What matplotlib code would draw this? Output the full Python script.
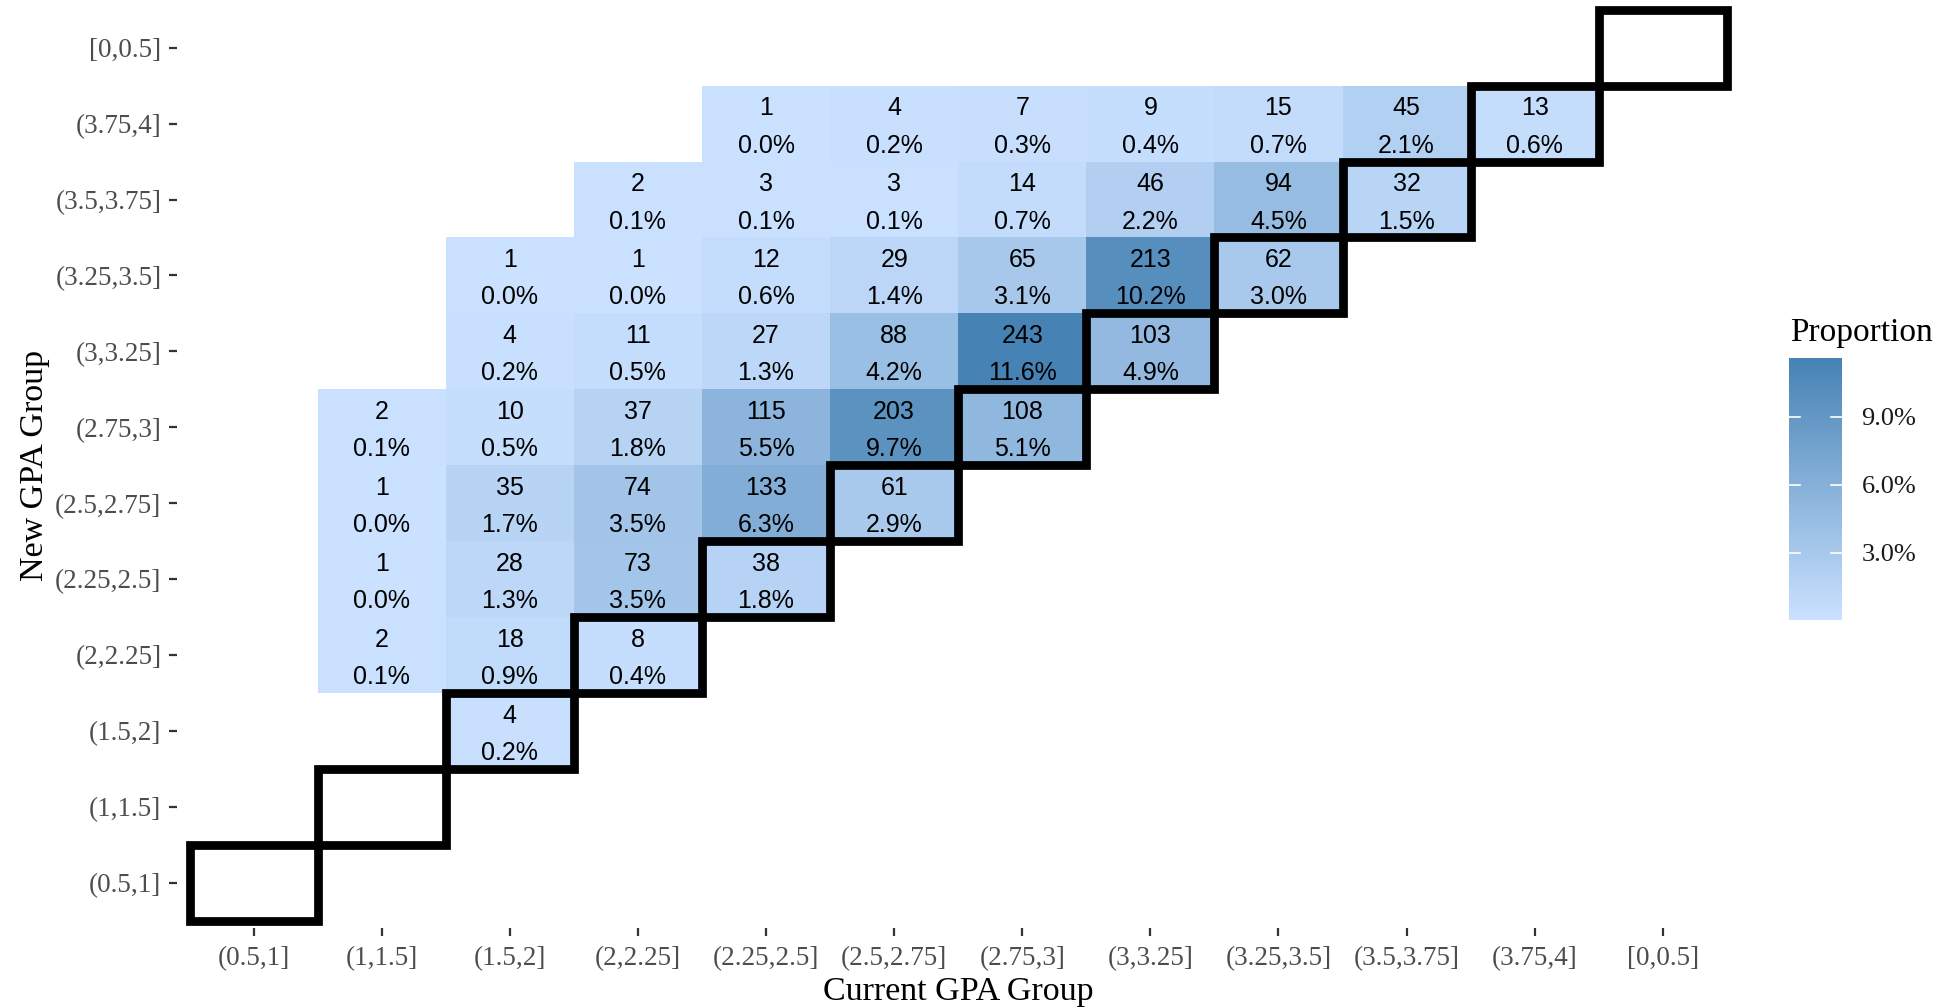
"""
GPA group transition heatmap — current vs new GPA group, counts + share of total
diagonal (no change) cells outlined in black
"""

import numpy as np
import matplotlib
matplotlib.use("Agg")
import matplotlib.pyplot as plt
from matplotlib.colors import LinearSegmentedColormap, Normalize
from matplotlib.patches import Rectangle

GROUPS = ["(0.5,1]", "(1,1.5]", "(1.5,2]", "(2,2.25]", "(2.25,2.5]", "(2.5,2.75]",
          "(2.75,3]", "(3,3.25]", "(3.25,3.5]", "(3.5,3.75]", "(3.75,4]", "[0,0.5]"]

# one entry per filled tile: current group, new group, student count
CUR = ["(2.25,2.5]", "(2.5,2.75]", "(2.75,3]", "(3,3.25]", "(3.25,3.5]", "(3.5,3.75]", "(3.75,4]",
       "(2,2.25]", "(2.25,2.5]", "(2.5,2.75]", "(2.75,3]", "(3,3.25]", "(3.25,3.5]", "(3.5,3.75]",
       "(1.5,2]", "(2,2.25]", "(2.25,2.5]", "(2.5,2.75]", "(2.75,3]", "(3,3.25]", "(3.25,3.5]",
       "(1.5,2]", "(2,2.25]", "(2.25,2.5]", "(2.5,2.75]", "(2.75,3]", "(3,3.25]",
       "(1,1.5]", "(1.5,2]", "(2,2.25]", "(2.25,2.5]", "(2.5,2.75]", "(2.75,3]",
       "(1,1.5]", "(1.5,2]", "(2,2.25]", "(2.25,2.5]", "(2.5,2.75]",
       "(1,1.5]", "(1.5,2]", "(2,2.25]", "(2.25,2.5]",
       "(1,1.5]", "(1.5,2]", "(2,2.25]",
       "(1.5,2]"]
NEW = ["(3.75,4]"] * 7 + ["(3.5,3.75]"] * 7 + ["(3.25,3.5]"] * 7 + ["(3,3.25]"] * 6 + \
      ["(2.75,3]"] * 6 + ["(2.5,2.75]"] * 5 + ["(2.25,2.5]"] * 4 + ["(2,2.25]"] * 3 + ["(1.5,2]"]
COUNTS = [1, 4, 7, 9, 15, 45, 13,
          2, 3, 3, 14, 46, 94, 32,
          1, 1, 12, 29, 65, 213, 62,
          4, 11, 27, 88, 243, 103,
          2, 10, 37, 115, 203, 108,
          1, 35, 74, 133, 61,
          1, 28, 73, 38,
          2, 18, 8,
          4]

LOW, HIGH = "#CAE1FF", "#4682B4"
SERIF = ["Liberation Serif", "DejaVu Serif"]
SANS = ["Liberation Sans", "DejaVu Sans"]


def main():
    n = len(GROUPS)
    total = sum(COUNTS)
    grid = np.full((n, n), np.nan)
    for c, r, k in zip(CUR, NEW, COUNTS):
        grid[GROUPS.index(r), GROUPS.index(c)] = k / total

    cmap = LinearSegmentedColormap.from_list("gpa", [LOW, HIGH])
    norm = Normalize(vmin=np.nanmin(grid), vmax=np.nanmax(grid))

    fig = plt.figure(figsize=(19.44, 10.08), dpi=100)
    ax = fig.add_axes([0.0909, 0.0792, 0.8040, 0.9186])
    edges = np.arange(n + 1) - 0.5
    mesh = ax.pcolormesh(edges, edges, np.ma.masked_invalid(grid), cmap=cmap, norm=norm,
                         edgecolors="none")

    for c, r, k in zip(CUR, NEW, COUNTS):
        x, y = GROUPS.index(c), GROUPS.index(r)
        ax.text(x, y + 0.2, f"{k}", ha="center", va="center", fontsize=18, family=SANS)
        ax.text(x, y - 0.29, f"{k / total * 100:.1f}%", ha="center", va="center",
                fontsize=18, family=SANS)

    # no-change cells
    for i in range(n):
        ax.add_patch(Rectangle((i - 0.5, i - 0.5), 1, 1, fill=False, ec="black",
                               lw=6.3, joinstyle="miter", clip_on=False, zorder=3))

    ax.set_xlim(-0.6, n - 0.4)
    ax.set_ylim(-0.6, n - 0.4)
    ax.set_xticks(range(n))
    ax.set_yticks(range(n))
    ax.set_xticklabels(GROUPS, family=SERIF, fontsize=19.5, color="#4D4D4D")
    ax.set_yticklabels(GROUPS, family=SERIF, fontsize=19.5, color="#4D4D4D")
    ax.tick_params(length=6, width=1.6, color="#333333", pad=5)
    ax.tick_params(axis="x", pad=7)
    for s in ax.spines.values():
        s.set_visible(False)
    ax.set_xlabel("Current GPA Group", family=SERIF, fontsize=24.5, labelpad=4)
    ax.set_ylabel("New GPA Group", family=SERIF, fontsize=24.5, labelpad=4)

    # colour bar
    cax = fig.add_axes([0.9203, 0.3849, 0.0272, 0.2599])
    cb = fig.colorbar(mesh, cax=cax)
    cb.outline.set_visible(False)
    ticks = [0.03, 0.06, 0.09]
    cb.set_ticks(ticks)
    cb.set_ticklabels([f"{t * 100:.1f}%" for t in ticks])
    cax.tick_params(length=0, pad=14)
    for lab in cax.get_yticklabels():
        lab.set_family(SERIF)
        lab.set_fontsize(19)
        lab.set_color("#1A1A1A")
    for t in ticks:
        cax.plot([0, 0.2], [t, t], color="white", lw=1.2, transform=cax.get_yaxis_transform())
        cax.plot([0.8, 1], [t, t], color="white", lw=1.2, transform=cax.get_yaxis_transform())
    fig.text(1790 / 1944, 1 - 333 / 1008, "Proportion", ha="left", va="center",
             family=SERIF, fontsize=24)

    plt.savefig("out.png", dpi=100)
    plt.close()


if __name__ == "__main__":
    main()
